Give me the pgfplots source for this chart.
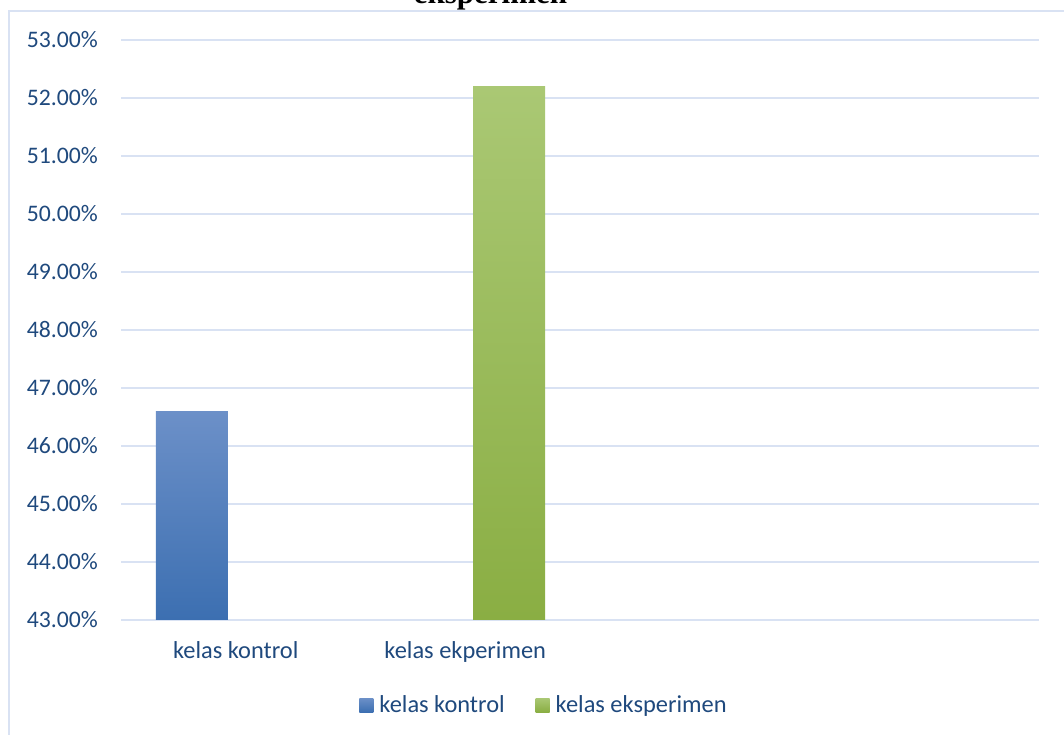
\documentclass[border=0pt]{standalone}
\usepackage{fontspec}
\setmainfont{Carlito}
\newfontfamily\titlefont{Liberation Serif}
\usepackage{pgfplots}
\pgfplotsset{compat=1.18}
\definecolor{txt}{RGB}{31,73,125}
\definecolor{gridc}{RGB}{217,226,243}
\definecolor{blueT}{RGB}{108,144,200}
\definecolor{blueB}{RGB}{60,111,177}
\definecolor{greenT}{RGB}{170,200,116}
\definecolor{greenB}{RGB}{138,174,67}
\begin{document}
\begin{tikzpicture}[x=1pt,y=1pt]
\draw[gridc, line width=1.6pt] (9,-80) -- (9,724) -- (1120,724);
\node[anchor=base, inner sep=0pt, font=\titlefont\bfseries\fontsize{31}{36}\selectfont] at (490.5,731) {eksperimen};
\begin{axis}[
  at={(121pt,115pt)}, anchor=south west,
  scale only axis, width=918pt, height=580pt,
  xmin=-0.5, xmax=3.5, ymin=43, ymax=53,
  ytick={43,44,...,53},
  yticklabels={43.00\%,44.00\%,45.00\%,46.00\%,47.00\%,48.00\%,49.00\%,50.00\%,51.00\%,52.00\%,53.00\%},
  xtick={0,1}, xticklabels={kelas kontrol, kelas ekperimen},
  ymajorgrids, grid style={gridc, line width=1.6pt},
  axis line style={draw=none},
  major tick length=0pt,
  tick label style={text=txt},
  yticklabel style={font=\fontsize{23.7}{28}\selectfont, anchor=east, inner sep=0pt, xshift=-23pt},
  xticklabel style={font=\fontsize{24.4}{28}\selectfont, anchor=base, inner sep=0pt, yshift=-39pt},
  clip=false,
  legend columns=2,
  legend style={draw=none, fill=none, at={(0.4597,-0.1466)}, anchor=center,
    font=\fontsize{24.4}{28}\selectfont, text=txt,
    /tikz/every even column/.append style={column sep=31pt},
    nodes={inner sep=0pt}},
  legend image code/.code={\path[#1] (0pt,-7pt) rectangle (14pt,7pt); \path (0pt,0pt) -- (20pt,0pt);},
]
\addplot[draw=none, top color=blueT, bottom color=blueB]
  coordinates {(-0.3475,43) (-0.3475,46.6) (-0.0338,46.6) (-0.0338,43)} -- cycle;
\addlegendentry{kelas kontrol}
\addplot[draw=none, top color=greenT, bottom color=greenB]
  coordinates {(1.0338,43) (1.0338,52.2) (1.3475,52.2) (1.3475,43)} -- cycle;
\addlegendentry{kelas eksperimen}
\end{axis}
\pgfresetboundingbox
\useasboundingbox (0,0) rectangle (1064,735);
\end{tikzpicture}
\end{document}
